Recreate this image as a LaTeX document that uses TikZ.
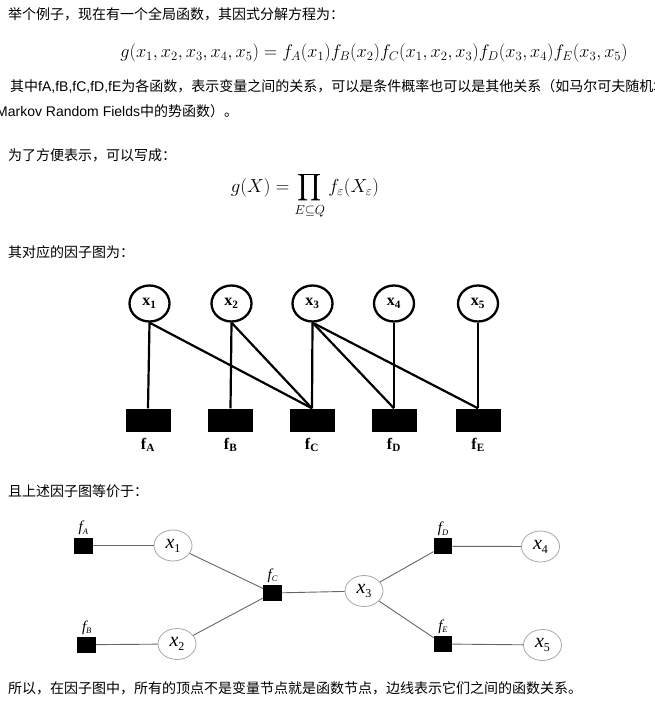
\documentclass[tikz,border=0pt]{standalone}
\usepackage{fontspec}
\usepackage{amsmath}
\usepackage{amssymb}
\usetikzlibrary{positioning}
\usetikzlibrary{shapes.geometric}
\newfontfamily\cjkfont{Noto Sans CJK SC}
\newfontfamily\arialfont{Liberation Sans}
\newfontfamily\seriffont{Liberation Serif}

% labels of the two factor graphs
\newcommand{\varbold}[1]{\textbf{x}\textsubscript{\textbf{#1}}}
\newcommand{\facbold}[1]{\textbf{f}\textsubscript{\textbf{#1}}}
\newcommand{\varit}[1]{{\itshape x}\raisebox{-4pt}{\fontsize{12}{12}\selectfont #1}}
\newcommand{\facit}[1]{{\fontsize{15}{16}\selectfont\itshape f}\raisebox{-2.5pt}{\fontsize{8.5}{9}\selectfont\itshape #1}}

\begin{document}
\begin{tikzpicture}[x=1pt, y=-1pt,
  textline/.style={anchor=west, inner sep=0pt, font=\fontsize{14}{16}\selectfont\cjkfont},
  formula/.style={inner sep=0pt, transform shape, font=\fontsize{17.28}{20}\selectfont},
  var/.style={ellipse, draw, line width=2.3pt, minimum width=40pt, minimum height=36pt, inner sep=0pt, font=\fontsize{16}{18}\selectfont\seriffont},
  factor/.style={fill=black, minimum width=45pt, minimum height=23pt, inner sep=0pt},
  flabel/.style={inner sep=0pt, font=\fontsize{16}{18}\selectfont\seriffont},
  link/.style={line width=2.2pt},
  var2/.style={ellipse, draw=gray!70, line width=0.8pt, minimum width=38pt, minimum height=31pt, inner sep=0pt, font=\fontsize{20}{22}\selectfont\seriffont},
  factor2/.style={fill=black, minimum width=18.5pt, minimum height=16pt, inner sep=0pt},
  flabel2/.style={inner sep=0pt, font=\seriffont},
  link2/.style={draw=black!60, line width=0.9pt}]
\def\W{655}
\def\H{706}

\useasboundingbox (0,0) rectangle (\W,\H);
\fill[white] (0,0) rectangle (\W,\H);
\clip (0,0) rectangle (\W,\H);

% text
\node[textline] (t1) at (8,14) {举个例子，现在有一个全局函数，其因式分解方程为：};
\node[formula, scale=1.057] (eq1) at (374,53) {$g(x_1,x_2,x_3,x_4,x_5)=f_A(x_1)f_B(x_2)f_C(x_1,x_2,x_3)f_D(x_3,x_4)f_E(x_3,x_5)$};
\node[textline] (t2) at (10,86) {其中{\arialfont fA,fB,fC,fD,fE}为各函数，表示变量之间的关系，可以是条件概率也可以是其他关系（如马尔可夫随机场};
\node[textline] (t3) at (-4,111) {{\arialfont Markov Random Fields}中的势函数）。};
\node[textline] (t4) at (8,155) {为了方便表示，可以写成：};
\node[formula, scale=1.09] (eq2) at (305,196) {$\displaystyle g(X)=\prod_{E\subseteq Q} f_{\varepsilon}(X_{\varepsilon})$};
\node[textline] (t5) at (8,252) {其对应的因子图为：};
\node[textline] (t6) at (8,491) {且上述因子图等价于：};
\node[textline] (t7) at (8,688) {所以，在因子图中，所有的顶点不是变量节点就是函数节点，边线表示它们之间的函数关系。};

% first factor graph
\foreach \n/\x in {1/149.5, 2/231.5, 3/312.5, 4/394, 5/478}
  \node[var] (p\n) at (\x,303.5) {\varbold{\n}};
\foreach \n/\x in {A/148, B/230.5, C/312, D/394, E/478} {
  \node[factor] (p\n) at (\x,420) {};
  \node[flabel, below=6pt of p\n] (lp\n) {\facbold{\n}};
}
\foreach \a/\b in {1/A, 1/C, 2/B, 2/C, 3/C, 3/D, 3/E, 4/D, 5/E}
  \draw[link] (p\a.south) -- (p\b.north);

% the same graph, drawn as a tree
\node[factor2] (qA) at (83.3,545.5) {};
\node[factor2] (qB) at (86.7,644.7) {};
\node[factor2] (qC) at (272.5,593) {};
\node[factor2] (qD) at (443,546.3) {};
\node[factor2] (qE) at (443,644) {};
\node[var2] (q1) at (173,545.5) {\varit{1}};
\node[var2] (q2) at (177,644) {\varit{2}};
\node[var2] (q3) at (364,591) {\varit{3}};
\node[var2] (q4) at (540.5,546.5) {\varit{4}};
\node[var2] (q5) at (542.5,645) {\varit{5}};
\foreach \n in {A,B,C,D,E}
  \node[flabel2, above=2pt of q\n] (lq\n) {\facit{\n}};

\foreach \a/\b in {A/1, B/2, 1/C, 2/C, C/3, 3/D, 3/E, D/4, E/5}
  \draw[link2] (q\a) -- (q\b);
\end{tikzpicture}
\end{document}
